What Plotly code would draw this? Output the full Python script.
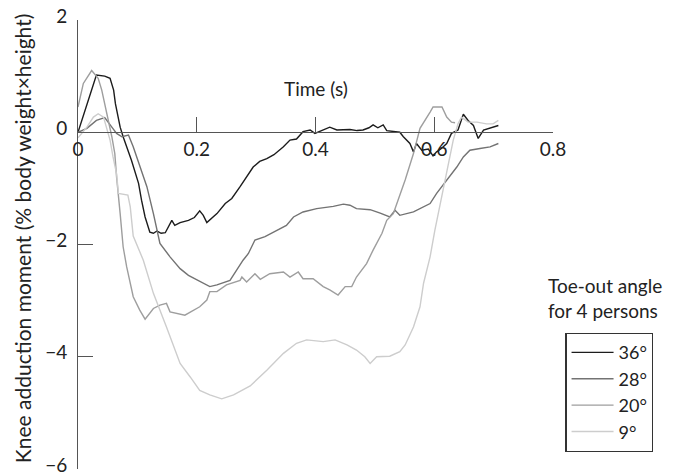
import plotly.graph_objects as go

FONT = "Lato"

# ---- data ----
t_36 = [0, 0.031, 0.045, 0.054, 0.060, 0.063, 0.071, 0.076, 0.090, 0.102, 0.107, 0.113, 0.121, 0.127,
        0.133, 0.140, 0.147, 0.152, 0.158, 0.163, 0.172, 0.186, 0.196, 0.205, 0.211, 0.217, 0.226,
        0.234, 0.248, 0.259, 0.273, 0.284, 0.295, 0.306, 0.318, 0.330, 0.346, 0.357, 0.368, 0.379,
        0.391, 0.399, 0.410, 0.424, 0.436, 0.447, 0.458, 0.470, 0.480, 0.490, 0.497, 0.505, 0.514,
        0.520, 0.531, 0.542, 0.548, 0.559, 0.565, 0.570, 0.579, 0.590, 0.598, 0.604, 0.612, 0.621,
        0.629, 0.640, 0.649, 0.657, 0.666, 0.674, 0.683, 0.699, 0.708]
v_36 = [0, 1.02, 1.0, 0.96, 0.75, 0.51, 0.09, -0.08, -0.50, -0.91, -1.21, -1.51, -1.78, -1.80,
        -1.76, -1.80, -1.79, -1.69, -1.57, -1.66, -1.61, -1.57, -1.52, -1.40, -1.48, -1.61, -1.52,
        -1.45, -1.27, -1.18, -0.97, -0.80, -0.62, -0.52, -0.47, -0.40, -0.26, -0.14, -0.12, 0.01,
        0.04, -0.02, 0.03, 0.09, 0.04, 0.05, 0.05, 0.03, 0.04, 0.08, 0.13, 0.08, 0.13,
        0.03, 0.01, 0.0, -0.08, -0.20, -0.35, -0.20, -0.32, -0.30, -0.42, -0.35, -0.29, -0.20,
        -0.02, 0.04, 0.32, 0.21, 0.12, -0.11, 0.04, 0.09, 0.12]

t_28 = [0, 0.015, 0.031, 0.045, 0.057, 0.065, 0.074, 0.085, 0.093, 0.104, 0.116, 0.127, 0.138,
        0.155, 0.172, 0.186, 0.203, 0.222, 0.234, 0.256, 0.278, 0.287, 0.298, 0.315, 0.335, 0.351,
        0.363, 0.379, 0.402, 0.430, 0.447, 0.458, 0.469, 0.492, 0.509, 0.525, 0.534, 0.542, 0.565,
        0.582, 0.593, 0.604, 0.621, 0.638, 0.649, 0.660, 0.677, 0.694, 0.708]
v_28 = [0, 0.07, 0.21, 0.26, 0.09, -0.02, -0.08, -0.05, -0.26, -0.62, -0.97, -1.45, -1.98,
        -2.22, -2.43, -2.55, -2.64, -2.75, -2.72, -2.64, -2.28, -2.16, -1.92, -1.86, -1.75, -1.66,
        -1.51, -1.42, -1.36, -1.32, -1.28, -1.30, -1.36, -1.38, -1.44, -1.51, -1.39, -1.48, -1.42,
        -1.33, -1.27, -1.09, -0.85, -0.62, -0.44, -0.32, -0.29, -0.26, -0.20]

t_20 = [0, 0.009, 0.023, 0.034, 0.040, 0.045, 0.051, 0.057, 0.062, 0.065, 0.071, 0.076, 0.082,
        0.093, 0.104, 0.113, 0.127, 0.138, 0.149, 0.155, 0.180, 0.194, 0.205, 0.217, 0.222, 0.234,
        0.250, 0.273, 0.276, 0.284, 0.298, 0.307, 0.323, 0.346, 0.357, 0.371, 0.379, 0.396, 0.413,
        0.424, 0.438, 0.450, 0.461, 0.469, 0.486, 0.497, 0.512, 0.520, 0.531, 0.539, 0.551, 0.565,
        0.576, 0.593, 0.598, 0.613, 0.621, 0.629, 0.635]
v_20 = [0.45, 0.87, 1.10, 0.96, 0.75, 0.51, 0.24, -0.08, -0.38, -0.80, -1.45, -2.04, -2.40,
        -2.93, -3.17, -3.33, -3.14, -3.08, -3.05, -3.20, -3.26, -3.17, -3.11, -2.99, -2.84, -2.84,
        -2.72, -2.64, -2.58, -2.67, -2.52, -2.62, -2.52, -2.49, -2.58, -2.49, -2.61, -2.61, -2.75,
        -2.81, -2.90, -2.75, -2.75, -2.58, -2.34, -2.10, -1.80, -1.57, -1.45, -1.21, -0.85, -0.38,
        0.07, 0.36, 0.45, 0.45, 0.27, 0.18, 0.17]

t_9 = [0, 0.015, 0.026, 0.034, 0.043, 0.048, 0.054, 0.059, 0.065, 0.068, 0.084, 0.088, 0.093,
       0.110, 0.127, 0.149, 0.172, 0.189, 0.205, 0.222, 0.242, 0.262, 0.290, 0.318, 0.346, 0.368,
       0.385, 0.413, 0.433, 0.453, 0.469, 0.483, 0.492, 0.503, 0.525, 0.542, 0.551, 0.565, 0.576,
       0.582, 0.593, 0.601, 0.615, 0.624, 0.632, 0.640, 0.646, 0.657, 0.672, 0.688, 0.699, 0.708]
v_9 = [-0.1, 0.09, 0.27, 0.33, 0.27, 0.09, -0.14, -0.44, -0.74, -1.09, -1.12, -1.33, -1.85,
       -2.28, -2.87, -3.47, -4.12, -4.36, -4.60, -4.68, -4.75, -4.68, -4.52, -4.24, -3.94, -3.76,
       -3.70, -3.73, -3.70, -3.79, -3.88, -4.00, -4.12, -4.00, -3.99, -3.91, -3.79, -3.47, -3.11,
       -2.69, -2.22, -1.75, -1.03, -0.56, -0.14, 0.15, 0.27, 0.18, 0.18, 0.15, 0.15, 0.21]

series_names = ["36°", "28°", "20°", "9°"]
series_t = [t_36, t_28, t_20, t_9]
series_v = [v_36, v_28, v_20, v_9]
series_colors = ["#1c1c1c", "#737373", "#9e9e9e", "#cdcdcd"]

x_tickvals = [0, 0.2, 0.4, 0.6, 0.8]
x_ticktext = ["0", "0.2", "0.4", "0.6", "0.8"]
y_tickvals = [2, 0, -2, -4, -6]

fig = go.Figure()
for name, t, v, c in zip(series_names, series_t, series_v, series_colors):
    fig.add_trace(go.Scatter(x=t, y=v, mode="lines", name=name,
                             line=dict(color=c, width=1.4)))

axis_color = "#555555"
txt = "#222222"
# the page body adds an 8px offset, so the figure is 8px smaller than the window
fig.update_layout(
    width=665, height=468,
    margin=dict(l=70, r=120, t=12, b=7, autoexpand=False),
    paper_bgcolor="white", plot_bgcolor="white",
    font=dict(family=FONT, size=19, color=txt),
    showlegend=True,
    legend=dict(x=1.026, y=0.303, xanchor="left", yanchor="top",
                bordercolor="#333333", borderwidth=1.2,
                font=dict(size=18, family=FONT, color=txt),
                tracegroupgap=0, itemwidth=42),
    xaxis=dict(range=[0, 0.8], anchor="free", position=0.75, side="bottom",
               automargin=False, ticklabeloverflow="allow",
               showline=True, linecolor=axis_color, linewidth=1,
               ticks="inside", ticklen=15, tickcolor=axis_color, tickwidth=1,
               tickvals=x_tickvals, ticktext=x_ticktext,
               showgrid=False, zeroline=False, ticklabelstandoff=0,
               tickfont=dict(size=19, family=FONT, color=txt)),
    yaxis=dict(range=[-6, 2], automargin=False, ticklabeloverflow="allow",
               showline=True, linecolor=axis_color, linewidth=1,
               ticks="inside", ticklen=15, tickcolor=axis_color, tickwidth=1,
               tickvals=y_tickvals, showgrid=False, zeroline=False,
               ticklabelstandoff=6, ticklabelshift=-4,
               tickfont=dict(size=19, family=FONT, color=txt)),
)

fig.add_annotation(text="Time (s)", x=0.4, y=0.78, xref="x", yref="y",
                   showarrow=False, font=dict(size=19, family=FONT, color=txt))
fig.add_annotation(text="Knee adduction moment (% body weight×height)",
                   x=-0.118, y=0.514, xref="paper", yref="paper", textangle=-90,
                   xanchor="center", yanchor="middle",
                   showarrow=False, font=dict(size=21, family=FONT, color=txt))
fig.add_annotation(text="Toe-out angle<br>for 4 persons", x=0.985, y=0.381,
                   xref="paper", yref="paper", xanchor="left", yanchor="middle",
                   align="left", showarrow=False,
                   font=dict(size=19, family=FONT, color=txt))

fig.write_html("out.html")
